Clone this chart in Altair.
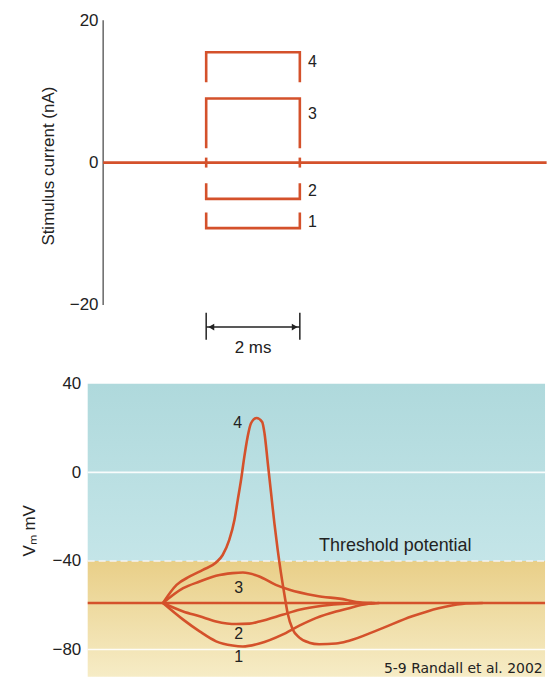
import altair as alt
import pandas as pd

RED = "#d4512b"
INK = "#222222"
FONT = "Liberation Sans"

# ---------------- top panel: stimulus current (nA) vs time (ms) ----------------
pulse_start, pulse_end = 2.2, 4.2          # ms (2 ms pulse)
trace_end = 9.47                           # ms, end of the zero line
pulse_ids = ["1", "2", "3", "4"]
pulse_level = [-9.2, -5.1, 9.0, 15.5]      # nA
pulse_stub = [-7.0, -2.9, 2.0, 11.3]       # nA, where the drawn edges stop
pulse_label_y = [-8.4, -4.0, 6.8, 14.1]
pulse_label_t = 4.47
zero_tick = 0.7

# ---------------- bottom panel: membrane potential (mV) vs time (ms) ----------------
rest = -59
threshold = -40
t_curve1 = [1.60, 2.03, 2.38, 2.73, 3.08, 3.30, 3.65, 4.14, 4.50, 4.85, 5.28, 5.56, 5.81, 6.20]
v_curve1 = [-59, -66.5, -71.8, -76.3, -78.2, -78.6, -77.3, -73.3, -69.2, -65.8, -62.8, -61.3, -59.9, -59]
t_curve2 = [1.60, 2.03, 2.38, 2.73, 3.16, 3.44, 3.65, 4.14, 4.50, 4.99, 5.49, 6.10]
v_curve2 = [-59, -62.8, -65.0, -67.3, -68.5, -68.3, -67.3, -64.3, -62.0, -60.2, -59.3, -59]
t_curve3 = [1.60, 2.03, 2.38, 2.73, 3.08, 3.30, 3.65, 4.00, 4.29, 4.85, 5.49, 5.71, 6.05]
v_curve3 = [-59, -52.3, -49.3, -46.7, -45.5, -45.2, -47.0, -50.8, -53.0, -55.7, -57.5, -58.5, -59]
t_curve4 = [1.60, 1.89, 2.17, 2.45, 2.73, 2.87, 3.01, 3.12, 3.19, 3.26, 3.33, 3.40, 3.47, 3.59,
            3.71, 3.76, 3.83, 3.90, 3.97, 4.04, 4.11, 4.18, 4.25, 4.36, 4.50, 4.71, 4.92, 5.28,
            5.56, 6.19, 6.90, 7.46, 7.96, 8.40]
v_curve4 = [-59, -50.8, -47.0, -44.0, -40.7, -37.3, -30.5, -21.5, -12.5, -3.5, 7.0, 16.0, 22.1, 24.6,
            22.8, 17.6, 4.1, -9.5, -23.0, -35.0, -45.5, -54.8, -63.5, -71.0, -74.6, -76.9, -77.6, -77.3,
            -76.0, -71.0, -65.0, -61.3, -59.4, -59]
curve_label_t = [3.21, 3.21, 3.21, 3.19]
curve_label_v = [-83.5, -73.0, -52.0, 22.3]
grid_values = [0, rest, -80]
y_ticks_bottom = [40, 0, -40, -80]
y_ticks_top = [-20, 0, 20]

# ================= layout =================
PX_MS_TOP, PX_MS_BOT, PX_MV = 47.0, 47.2, 2.2222
W, H_TOP, H_BOT = 459, 343, 294
TOP_X = alt.Scale(domain=[-0.33, -0.33 + W / PX_MS_TOP], nice=False, zero=False)
TOP_Y = alt.Scale(domain=[-28, 20], nice=False, zero=False)
B_TMAX = W / PX_MS_BOT
B_VMIN = 40 - H_BOT / PX_MV
BX = alt.Scale(domain=[0, B_TMAX], nice=False, zero=False)
BY = alt.Scale(domain=[B_VMIN, 40], nice=False, zero=False)

# ================= top panel =================
rows = []
for pid, lev, stub in zip(pulse_ids, pulse_level, pulse_stub):
    for i, (t, v) in enumerate([(pulse_start, stub), (pulse_start, lev), (pulse_end, lev), (pulse_end, stub)]):
        rows.append({"pulse": pid, "i": i, "t": t, "v": v})
pulses_df = pd.DataFrame(rows)

zero_df = pd.DataFrame({"t": [0, trace_end], "v": [0, 0]})
ticks_df = pd.DataFrame({"t": [pulse_start, pulse_end], "lo": [-zero_tick] * 2, "hi": [zero_tick] * 2})
axis_df = pd.DataFrame({"t": [0], "lo": [-20], "hi": [20]})
plabel_df = pd.DataFrame({"t": [pulse_label_t] * 4, "v": pulse_label_y, "lab": pulse_ids})

# scale bar (2 ms)
bar_ticks_df = pd.DataFrame({"t": [pulse_start, pulse_end], "lo": [-21.1] * 2, "hi": [-24.9] * 2})
bar_line_df = pd.DataFrame({"t": [pulse_start], "t2": [pulse_end], "v": [-23.1]})
arrow_df = pd.DataFrame({"t": [2.31, 4.09], "v": [-23.1, -23.1], "shape": ["triangle-left", "triangle-right"]})
bar_text_df = pd.DataFrame({"t": [(pulse_start + pulse_end) / 2], "v": [-26.0], "lab": ["2 ms"]})

x_top = lambda f="t": alt.X(f"{f}:Q", scale=TOP_X, axis=None)

top_axis_line = alt.Chart(axis_df).mark_rule(color="#666666", strokeWidth=1.5).encode(
    x=x_top(),
    y=alt.Y("lo:Q", scale=TOP_Y,
            axis=alt.Axis(values=y_ticks_top, domain=False, ticks=False, tickSize=0, grid=False,
                          offset=-15.3, labelPadding=5, labelFontSize=17, labelFont=FONT,
                          labelColor=INK, title="Stimulus current (nA)", titleFontSize=17,
                          titleFont=FONT, titleFontWeight="normal", titleColor=INK,
                          titlePadding=12, titleY=146)),
    y2="hi:Q",
)
top_zero = alt.Chart(zero_df).mark_line(color=RED, strokeWidth=2.6).encode(
    x=x_top(), y=alt.Y("v:Q", scale=TOP_Y))
top_ticks = alt.Chart(ticks_df).mark_rule(color=RED, strokeWidth=2.6).encode(
    x=x_top(), y=alt.Y("lo:Q", scale=TOP_Y), y2="hi:Q")
top_pulses = alt.Chart(pulses_df).mark_line(color=RED, strokeWidth=2.6, strokeJoin="miter").encode(
    x=x_top(), y=alt.Y("v:Q", scale=TOP_Y), detail="pulse:N", order="i:Q")
top_labels = alt.Chart(plabel_df).mark_text(fontSize=16, font=FONT, color=INK, align="center",
                                            baseline="middle").encode(
    x=x_top(), y=alt.Y("v:Q", scale=TOP_Y), text="lab:N")
bar_ticks = alt.Chart(bar_ticks_df).mark_rule(color=INK, strokeWidth=1.5).encode(
    x=x_top(), y=alt.Y("lo:Q", scale=TOP_Y), y2="hi:Q")
bar_line = alt.Chart(bar_line_df).mark_rule(color=INK, strokeWidth=1.5).encode(
    x=x_top(), x2="t2:Q", y=alt.Y("v:Q", scale=TOP_Y))
bar_arrows = alt.Chart(arrow_df).mark_point(filled=True, color=INK, size=45, opacity=1).encode(
    x=x_top(), y=alt.Y("v:Q", scale=TOP_Y),
    shape=alt.Shape("shape:N", scale=None))
bar_text = alt.Chart(bar_text_df).mark_text(fontSize=17, font=FONT, color=INK, baseline="middle").encode(
    x=x_top(), y=alt.Y("v:Q", scale=TOP_Y), text="lab:N")

top = alt.layer(top_axis_line, top_zero, top_ticks, top_pulses, top_labels,
                bar_ticks, bar_line, bar_arrows, bar_text).properties(width=W, height=H_TOP)

# ================= bottom panel =================
blue_grad = alt.Gradient(gradient="linear", x1=0, x2=0, y1=0, y2=1,
                         stops=[alt.GradientStop(color="#afd9dc", offset=0),
                                alt.GradientStop(color="#c4e5e8", offset=1)])
yellow_grad = alt.Gradient(gradient="linear", x1=0, x2=0, y1=0, y2=1,
                           stops=[alt.GradientStop(color="#e9cf88", offset=0),
                                  alt.GradientStop(color="#f6ecc6", offset=1)])

blue_df = pd.DataFrame({"t": [0], "t2": [B_TMAX], "v": [40], "v2": [threshold]})
yellow_df = pd.DataFrame({"t": [0], "t2": [B_TMAX], "v": [threshold], "v2": [B_VMIN]})
grid_df = pd.DataFrame({"t": [0] * 3, "t2": [B_TMAX] * 3, "v": grid_values})
thr_df = pd.DataFrame({"t": [0], "t2": [B_TMAX], "v": [threshold]})
rest_df = pd.DataFrame({"t": [0, B_TMAX], "v": [rest, rest]})

crows = []
for name, ts, vs in [("1", t_curve1, v_curve1), ("2", t_curve2, v_curve2),
                     ("3", t_curve3, v_curve3), ("4", t_curve4, v_curve4)]:
    for i, (t, v) in enumerate(zip(ts, vs)):
        crows.append({"curve": name, "i": i, "t": t, "v": v})
curves_df = pd.DataFrame(crows)
clabel_df = pd.DataFrame({"t": curve_label_t, "v": curve_label_v, "lab": ["1", "2", "3", "4"]})
thr_text_df = pd.DataFrame({"t": [4.92], "v": [-33.2], "lab": ["Threshold potential"]})
cite_df = pd.DataFrame({"t": [B_TMAX - 0.05], "v": [B_VMIN + 3.3], "lab": ["5-9 Randall et al. 2002"]})

xb = lambda f="t": alt.X(f"{f}:Q", scale=BX, axis=None)

bg_blue = alt.Chart(blue_df).mark_rect(fill=blue_grad).encode(
    x=xb(), x2="t2:Q",
    y=alt.Y("v:Q", scale=BY,
            axis=alt.Axis(values=y_ticks_bottom, domain=False, ticks=False, tickSize=0, grid=False,
                          labelPadding=7, labelFontSize=17, labelFont=FONT, labelColor=INK,
                          title="Vₘ mV", titleFontSize=17, titleFont=FONT,
                          titleFontWeight="normal", titleColor=INK, titlePadding=14)),
    y2="v2:Q")
bg_yellow = alt.Chart(yellow_df).mark_rect(fill=yellow_grad).encode(
    x=xb(), x2="t2:Q", y=alt.Y("v:Q", scale=BY), y2="v2:Q")
grid = alt.Chart(grid_df).mark_rule(color="white", strokeWidth=1.6, opacity=0.9).encode(
    x=xb(), x2="t2:Q", y=alt.Y("v:Q", scale=BY))
thr = alt.Chart(thr_df).mark_rule(color="#f4f4f4", strokeWidth=1.6, strokeDash=[7, 4]).encode(
    x=xb(), x2="t2:Q", y=alt.Y("v:Q", scale=BY))
rest_line = alt.Chart(rest_df).mark_line(color=RED, strokeWidth=2.6).encode(
    x=xb(), y=alt.Y("v:Q", scale=BY))
curves = alt.Chart(curves_df).mark_line(color=RED, strokeWidth=2.6, interpolate="monotone").encode(
    x=xb(), y=alt.Y("v:Q", scale=BY), detail="curve:N", order="i:Q")
clabels = alt.Chart(clabel_df).mark_text(fontSize=16, font=FONT, color=INK, baseline="middle").encode(
    x=xb(), y=alt.Y("v:Q", scale=BY), text="lab:N")
thr_text = alt.Chart(thr_text_df).mark_text(fontSize=18, font=FONT, color=INK, align="left",
                                            baseline="middle").encode(
    x=xb(), y=alt.Y("v:Q", scale=BY), text="lab:N")
cite = alt.Chart(cite_df).mark_text(fontSize=14, font="DejaVu Sans", color=INK, align="right",
                                    baseline="middle").encode(
    x=xb(), y=alt.Y("v:Q", scale=BY), text="lab:N")

bottom = alt.layer(bg_blue, bg_yellow, grid, thr, rest_line, curves, clabels, thr_text, cite).properties(
    width=W, height=H_BOT)

chart = alt.vconcat(top, bottom, spacing=13).properties(
    padding={"left": 12, "top": 2, "right": 0, "bottom": 0},
    background="white",
).configure_view(stroke=None)

chart.save("out.html", embed_options={"renderer": "svg", "actions": False})
